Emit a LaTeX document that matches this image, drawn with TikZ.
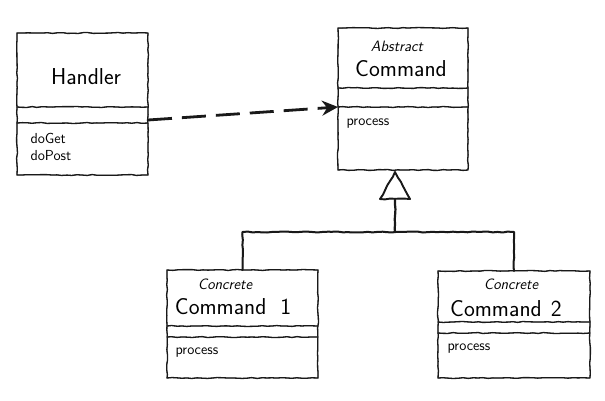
\documentclass[tikz,border=0pt]{standalone}
\usetikzlibrary{decorations.pathmorphing,arrows.meta,calc}
\begin{document}
\begin{tikzpicture}[x=1pt,y=-1pt,
  font=\sffamily,
  % rough pencil stroke, drawn twice with different jitter
  pencil/.style={draw=black!90, line width=1.3pt, line cap=round, line join=round,
    decorate, decoration={random steps,segment length=5pt,amplitude=0.5pt},
    preaction={draw=black!70, line width=0.8pt, decorate,
      decoration={random steps,segment length=7pt,amplitude=0.8pt}}},
  classbox/.style={inner sep=0pt, outer sep=0pt},
  title/.style={font=\sffamily\fontsize{23}{25}\selectfont},
  small/.style={font=\sffamily\itshape\fontsize{15}{16}\selectfont},
  member/.style={font=\sffamily\fontsize{14.5}{17}\selectfont, anchor=west, align=left},
]
\useasboundingbox (0,0) rectangle (605,400);

% class boxes
\node[classbox, minimum width=131pt, minimum height=142pt] (handler) at (82.5,104) {};
\node[classbox, minimum width=130pt, minimum height=142pt] (abscmd)  at (403,99)  {};
\node[classbox, minimum width=151pt, minimum height=108pt] (cc1)     at (242.5,324) {};
\node[classbox, minimum width=152pt, minimum height=107pt] (cc2)     at (514,324.5) {};

% outlines and compartments
\draw[pencil] (handler.north west) rectangle (handler.south east);
\draw[pencil] ($(handler.north west)+(0,74)$) -- ($(handler.north east)+(0,74)$);
\draw[pencil] ($(handler.north west)+(0,90)$) -- ($(handler.north east)+(0,90)$);

\draw[pencil] (abscmd.north west) rectangle (abscmd.south east);
\draw[pencil] ($(abscmd.north west)+(0,60)$) -- ($(abscmd.north east)+(0,60)$);
\draw[pencil] ($(abscmd.north west)+(0,79)$) -- ($(abscmd.north east)+(0,79)$);

\draw[pencil] (cc1.north west) rectangle (cc1.south east);
\draw[pencil] ($(cc1.north west)+(0,56)$) -- ($(cc1.north east)+(0,56)$);
\draw[pencil] ($(cc1.north west)+(0,67)$) -- ($(cc1.north east)+(0,67)$);

\draw[pencil] (cc2.north west) rectangle (cc2.south east);
\draw[pencil] ($(cc2.north west)+(0,51)$) -- ($(cc2.north east)+(0,51)$);
\draw[pencil] ($(cc2.north west)+(0,62)$) -- ($(cc2.north east)+(0,62)$);

% texts
\node[title] (hname) at (86,77) {Handler};
\node[member] (hops) at (27,147) {doGet\\doPost};

\node[small] (absa) at (397,46) {Abstract};
\node[title] (absb) at (401,69) {Command};
\node[member] (absop) at (343,124) {process};

\node[small] (c1a) at (225,284) {Concrete};
\node[title] (c1b) at (233,307) {Command\hspace{0.6em}1};
\node[member] (c1op) at (172,353) {process};

\node[small] (c2a) at (511,284) {Concrete};
\node[title] (c2b) at (506,309) {Command\hspace{0.4em}2};
\node[member] (c2op) at (444,349) {process};

% dependency: Handler uses AbstractCommand
\coordinate (depA) at ($(handler.north east)+(0,87)$);
\coordinate (depB) at ($(abscmd.north west)+(0,79)$);
\draw[black!90, line width=2.8pt, dash pattern=on 24pt off 10pt,
  -{Stealth[length=16pt,width=15pt]}] (depA) -- (depB);

% generalization: both concrete commands extend AbstractCommand
\coordinate (apex) at ($(abscmd.south)+(-8,2)$);
\coordinate (tri) at ($(apex)+(0,27)$);
\coordinate (bar) at ($(apex)+(0,60)$);
\coordinate (barL) at (cc1.north |- bar);
\coordinate (barR) at (cc2.north |- bar);
\draw[pencil, line width=1.9pt] (apex) -- ($(tri)+(-15,0)$) -- ($(tri)+(15,0)$) -- cycle;
\draw[pencil, line width=2.2pt] (tri) -- (bar);
\draw[pencil, line width=2pt] (cc1.north) -- (barL) -- (barR) -- (cc2.north);

\end{tikzpicture}
\end{document}
